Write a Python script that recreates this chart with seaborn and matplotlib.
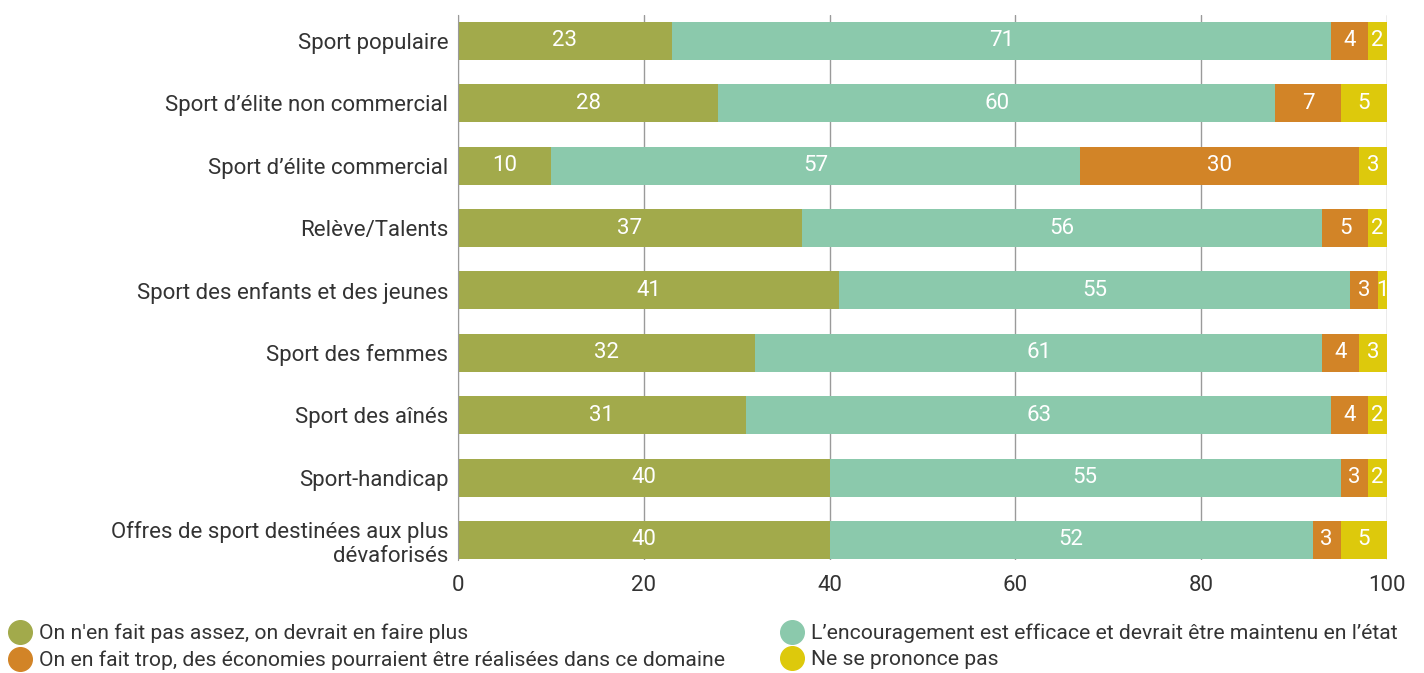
import numpy as np
import pandas as pd
import matplotlib
matplotlib.use("Agg")
import matplotlib.pyplot as plt
from matplotlib.lines import Line2D
import seaborn as sns

categories = [
    "Sport populaire",
    "Sport d\u2019élite non commercial",
    "Sport d\u2019élite commercial",
    "Relève/Talents",
    "Sport des enfants et des jeunes",
    "Sport des femmes",
    "Sport des aînés",
    "Sport-handicap",
    "Offres de sport destinées aux plus\ndévaforisés",
]
pas_assez = [23, 28, 10, 37, 41, 32, 31, 40, 40]
efficace = [71, 60, 57, 56, 55, 61, 63, 55, 52]
trop = [4, 7, 30, 5, 3, 4, 4, 3, 3]
ne_sait_pas = [2, 5, 3, 2, 1, 3, 2, 2, 5]

series_names = [
    "On n'en fait pas assez, on devrait en faire plus",
    "L\u2019encouragement est efficace et devrait être maintenu en l\u2019état",
    "On en fait trop, des économies pourraient être réalisées dans ce domaine",
    "Ne se prononce pas",
]
colors = ["#A2AA4B", "#8BC9AC", "#D28427", "#DDC90C"]

sns.set_style("white")
plt.rcParams["font.family"] = ["Roboto", "DejaVu Sans"]
text_color = "#333333"

df = pd.DataFrame({"cat": categories, "a": pas_assez, "b": efficace,
                   "c": trop, "d": ne_sait_pas})
vals = df[["a", "b", "c", "d"]].to_numpy()
cum = vals.cumsum(axis=1)

fig = plt.figure(figsize=(14.24, 6.73), dpi=100)
ax = fig.add_axes([0.3216, 0.168, 0.6524, 0.81])

# empilement : on dessine les cumuls du plus long au plus court
for i in range(3, -1, -1):
    sns.barplot(x=cum[:, i], y=df["cat"], color=colors[i], orient="h",
                width=0.61, saturation=1, linewidth=0, ax=ax, zorder=2)

# etiquettes au centre de chaque segment
for r in range(len(categories)):
    start = 0
    for i in range(4):
        v = vals[r, i]
        ax.text(start + v / 2, r, str(v), ha="center", va="center",
                color="white", fontsize=16, zorder=3)
        start += v

ax.set_xlim(0, 100)
ax.set_ylim(8.32, -0.417)
ax.set_xticks([0, 20, 40, 60, 80, 100])
ax.xaxis.grid(True, color="#9a9a9a", linewidth=1, zorder=0)
ax.set_axisbelow(True)
ax.tick_params(axis="both", length=0, labelsize=16, labelcolor=text_color)
ax.tick_params(axis="y", pad=7)
ax.tick_params(axis="x", pad=11)
ax.set_xlabel("")
ax.set_ylabel("")
for s in ["top", "right", "bottom"]:
    ax.spines[s].set_visible(False)
ax.spines["left"].set_color("#9a9a9a")

handles = [Line2D([], [], marker="o", linestyle="", markersize=17,
                  markerfacecolor=colors[i], markeredgecolor=colors[i])
           for i in [0, 2, 1, 3]]
labels = [series_names[i] for i in [0, 2, 1, 3]]
fig.legend(handles, labels, ncol=2, loc="lower left",
           bbox_to_anchor=(0.0, -0.008), frameon=False, fontsize=15.2,
           handletextpad=0.35, columnspacing=2.6, labelspacing=0.35,
           handlelength=1.1, borderaxespad=0, labelcolor=text_color)

fig.savefig("out.png", dpi=100)
